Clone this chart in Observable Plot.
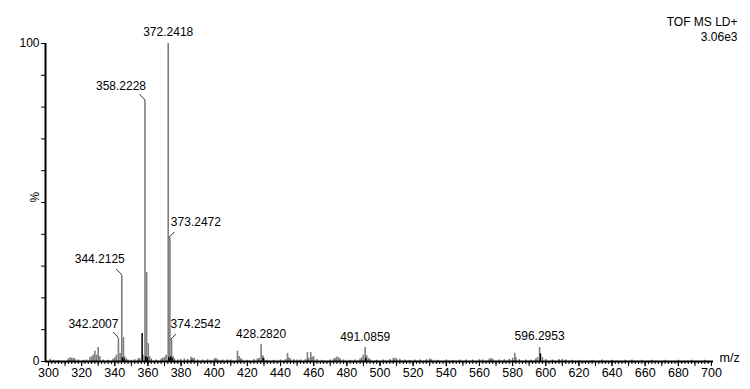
<!DOCTYPE html>
<html>
<head>
<meta charset="utf-8">
<script src="https://cdn.jsdelivr.net/npm/d3@7"></script>
<script src="https://cdn.jsdelivr.net/npm/@observablehq/plot@0.6"></script>
<style>
  html, body { margin: 0; padding: 0; background: #fff; }
  svg { display: block; }
</style>
</head>
<body>
<div id="chart"></div>
<script>
// ---- data ----
const grayMz = [301,303,306,312,313,314,315,316,318,321,323,325,326,327,328,329,330,331,333,336,339,340,
  341,342.2007,343.2,344.2125,345.2,346,347,348,350,352,354,355,357,358.2228,359.2,360.2,361,362,365,368,369,370,371,
  372.2418,373.2472,374.2542,375.2,376,378,380,382,384,386,387,388,390,393,396,398,400,401,402,405,408,410,
  414,415,416,417,420,424,426,427,428.282,429.3,430,432,436,440,443,444.2,445,446,448,450,452,455,456.2,457,458.2,459,460,462,465,
  470,472,473,474,475,476,478,482,485,488,489,490,491.0859,492,493,494,498,502,506,508,509,510,512,515,518,521,524,528,530,531,
  535,540,544,548,552,556,560,562,566,567,568,572,575,578,580,581.3,582,584,588,591,594,595,596.2953,598,600,604,608,610,612,
  616,620,628,634,640,648,652,658,664,672,680,688,696];
const grayInt = [0.7,0.4,0.3,0.8,1.2,1.0,1.0,0.8,0.5,0.4,0.5,1.2,1.5,2.0,3.2,2.0,4.4,1.5,0.5,0.4,0.8,1.2,
  2.0,7.2,2.5,27,7.5,1.5,0.8,0.5,0.4,0.6,0.8,1.0,2.0,82,28,5.6,1.5,0.8,0.5,0.7,1.0,1.3,2.0,
  100,38.7,6.6,1.5,0.8,0.5,0.6,0.8,0.7,1.3,1.0,1.0,0.5,0.5,0.6,0.4,0.8,1.0,0.6,0.5,0.5,0.5,
  3.2,1.6,0.9,0.5,0.4,0.6,0.8,1.0,5.3,1.8,1.0,0.4,0.4,0.5,0.6,2.5,1.2,0.8,0.6,0.5,0.5,0.6,2.8,1.0,2.8,1.4,1.5,0.6,0.4,
  0.5,0.8,1.0,1.4,1.2,0.8,0.5,0.4,0.5,0.8,1.2,2.0,4.4,1.8,1.0,0.6,0.4,0.5,0.6,0.9,1.0,0.8,0.7,0.5,0.4,0.5,0.5,0.6,0.8,0.6,
  0.4,0.5,0.4,0.5,0.5,0.5,0.6,0.5,0.8,0.9,0.7,0.5,0.6,0.7,1.0,2.6,1.2,0.6,0.5,0.5,0.8,1.2,4.4,1.2,0.6,0.5,0.6,0.7,0.5,
  0.4,0.4,0.4,0.5,0.4,0.4,0.5,0.4,0.4,0.4,0.4,0.4,0.4];
const blackMz  = [344.6,345.6,356.5,358.6,359.6,372.6,373.6,374.6,386.5,429.6,491.4,596.8];
const blackInt = [1.2,0.8,8.8,1.5,1.2,1.2,1.5,1.0,0.5,1.0,1.0,2.4];

const labelMz   = [372.2418,358.2228,373.2472,344.2125,342.2007,374.2542,428.282,491.0859,596.2953];
const labelText = ["372.2418","358.2228","373.2472","344.2125","342.2007","374.2542","428.2820","491.0859","596.2953"];

const yTickLabels = [0, 100];
const xTickLabels = d3.range(300, 701, 20);
const titleLines = ["TOF MS LD+", "3.06e3"];

// ---- styles (label placement, pixel offsets) ----
const labelStyle = {
  "372.2418": {dx: 0, dy: -8, lead: 0},
  "358.2228": {dx: -24, dy: -11, lead: -1},
  "373.2472": {dx: 26, dy: -12, lead: 1},
  "344.2125": {dx: -22, dy: -13, lead: -1},
  "342.2007": {dx: -25, dy: -11, lead: -1},
  "374.2542": {dx: 24, dy: -13, lead: 1},
  "428.2820": {dx: 0, dy: -7, lead: 0},
  "491.0859": {dx: 0, dy: -7, lead: 0},
  "596.2953": {dx: 0, dy: -8, lead: 0}
};

const gray = grayMz.map((m, i) => ({mz: m, v: grayInt[i]}));
const black = blackMz.map((m, i) => ({mz: m, v: blackInt[i]}));
const labels = labelMz.map((m, i) => ({mz: m, text: labelText[i], v: grayInt[grayMz.indexOf(m)]}));

const font = "Liberation Sans, Arial, sans-serif";

const leaderMark = (index, scales) => {
  const g = d3.create("svg:g").attr("stroke", "#000").attr("stroke-width", 0.8).attr("fill", "none");
  labels.forEach(l => {
    const s = labelStyle[l.text].lead;
    if (!s) return;
    const px = scales.x(l.mz), py = scales.y(l.v);
    g.append("path").attr("d", `M${px},${py}l0,-1l${s * 5},-5`);
  });
  return g.node();
};

const minorTicks = d3.range(300, 701, 2);
const midTicks = d3.range(300, 701, 10);

const chart = Plot.plot({
  width: 750,
  height: 389,
  marginLeft: 45,
  marginRight: 39,
  marginTop: 43,
  marginBottom: 28,
  style: {fontFamily: font, fontSize: "12px", background: "#fff", color: "#000"},
  x: {domain: [298.2, 700], axis: null},
  y: {domain: [0, 100], axis: null},
  marks: [
    Plot.axisY(d3.range(0, 101, 10), {tickSize: 4, tickPadding: 2, tickFormat: d => yTickLabels.includes(d) ? String(d) : "", label: null, fontSize: 12, strokeWidth: 1}),
    Plot.axisX(minorTicks, {tickSize: 3, tickFormat: () => "", label: null}),
    Plot.axisX(midTicks, {tickSize: 5, tickFormat: () => "", label: null}),
    Plot.axisX(xTickLabels, {tickSize: 5, tickPadding: 2, label: null, fontSize: 12.5}),
    Plot.ruleX(gray, {x: "mz", y1: 0, y2: "v", stroke: "#7d7d7d", strokeWidth: 1.6}),
    Plot.ruleX(black, {x: "mz", y1: 0, y2: "v", stroke: "#000", strokeWidth: 1.5}),
    Plot.ruleY([0], {stroke: "#000", strokeWidth: 2, insetRight: -2}),
    Plot.ruleX([298.2], {y1: 0, y2: 100, stroke: "#000", strokeWidth: 2}),
    leaderMark,
    ...labels.map(l => Plot.text([l], {x: "mz", y: "v", text: "text", dx: labelStyle[l.text].dx, dy: labelStyle[l.text].dy, fontSize: 12, lineAnchor: "bottom", fill: "#000"})),
    Plot.text(["%"], {frameAnchor: "left", dx: -10, rotate: -90, fontSize: 12, fill: "#000"}),
    Plot.text(["m/z"], {frameAnchor: "bottom-right", dx: 8, textAnchor: "start", fontSize: 12.5, fill: "#000"}),
    Plot.text([titleLines[0]], {frameAnchor: "top-right", dx: 26, dy: -26, textAnchor: "end", fontSize: 12, fill: "#000"}),
    Plot.text([titleLines[1]], {frameAnchor: "top-right", dx: 26, dy: -11, textAnchor: "end", fontSize: 12, fill: "#000"})
  ]
});
document.getElementById("chart").appendChild(chart);
</script>
</body>
</html>
